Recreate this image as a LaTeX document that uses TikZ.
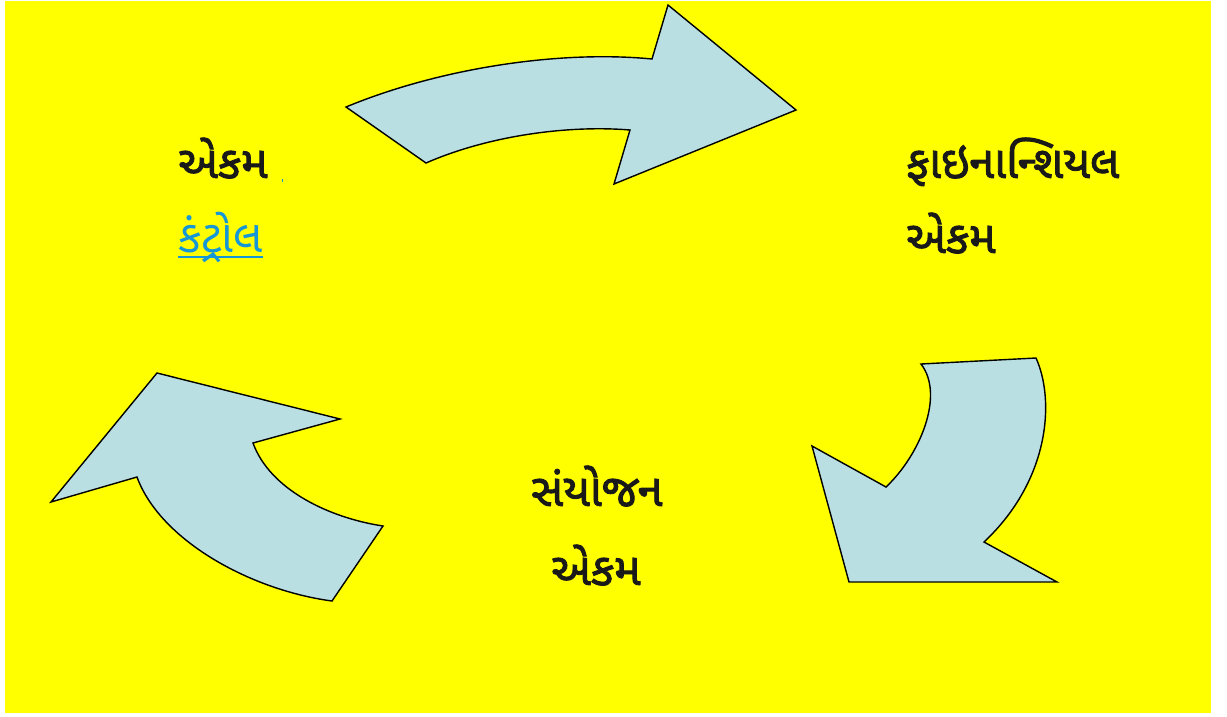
\documentclass[tikz,border=0pt]{standalone}
\usepackage{fontspec}
\newfontfamily\guj[Script=Gujarati,AutoFakeBold=2]{Noto Sans Gujarati UI}
\definecolor{bgyellow}{RGB}{255,255,0}
\definecolor{arrowfill}{RGB}{185,223,227}
\definecolor{linkblue}{RGB}{20,150,215}
\definecolor{txt}{RGB}{25,25,25}
\tikzset{
  arrowshape/.style={fill=arrowfill,draw=black,line width=1.4pt,line join=miter},
  lbl/.style={anchor=base west,inner sep=0pt,font=\guj\bfseries\fontsize{45}{50}\selectfont,text=txt},
}
\begin{document}
\begin{tikzpicture}[x=1pt,y=-1pt]
\useasboundingbox (0,0) rectangle (1227,716);
\fill[white] (0,0) rectangle (1227,716);
\fill[bgyellow] (5,1) rectangle (1211,713);
% top arrow
\draw[arrowshape] (346,107) .. controls (440,68) and (560,50) .. (652,59)
  -- (668,5) -- (796,110) -- (614,184) -- (630,130)
  .. controls (570,125) and (490,135) .. (426,163) -- cycle;
% right arrow
\draw[arrowshape] (921,364) -- (1036,358)
  .. controls (1055,400) and (1050,480) .. (984,542)
  -- (1057,582) -- (849,582) -- (812,446) -- (886,487)
  .. controls (920,455) and (945,395) .. cycle;
% left arrow
\draw[arrowshape] (332,601) -- (383,526)
  .. controls (330,518) and (270,490) .. (253,443)
  -- (340,419) -- (157,373) -- (51,502) -- (137,477)
  .. controls (160,540) and (250,590) .. cycle;
% labels
\node[lbl] (ekam1) at (178,178) {એકમ};
\node[lbl,text=linkblue,font=\guj\fontsize{45}{50}\selectfont] (ctrl) at (178,252) {કંટ્રોલ};
\draw[linkblue,line width=1.5pt] ([yshift=-5]ctrl.base west) -- ([yshift=-5]ctrl.base east);
\fill[linkblue] (281.5,179) rectangle (282.5,182);
\node[lbl] (fin) at (906,178) {ફાઇનાન્શિયલ};
\node[lbl] (ekam2) at (906,253) {એકમ};
\node[lbl] (sanyo) at (531,506) {સંયોજન};
\node[lbl] (ekam3) at (551,585) {એકમ};
\end{tikzpicture}
\end{document}
